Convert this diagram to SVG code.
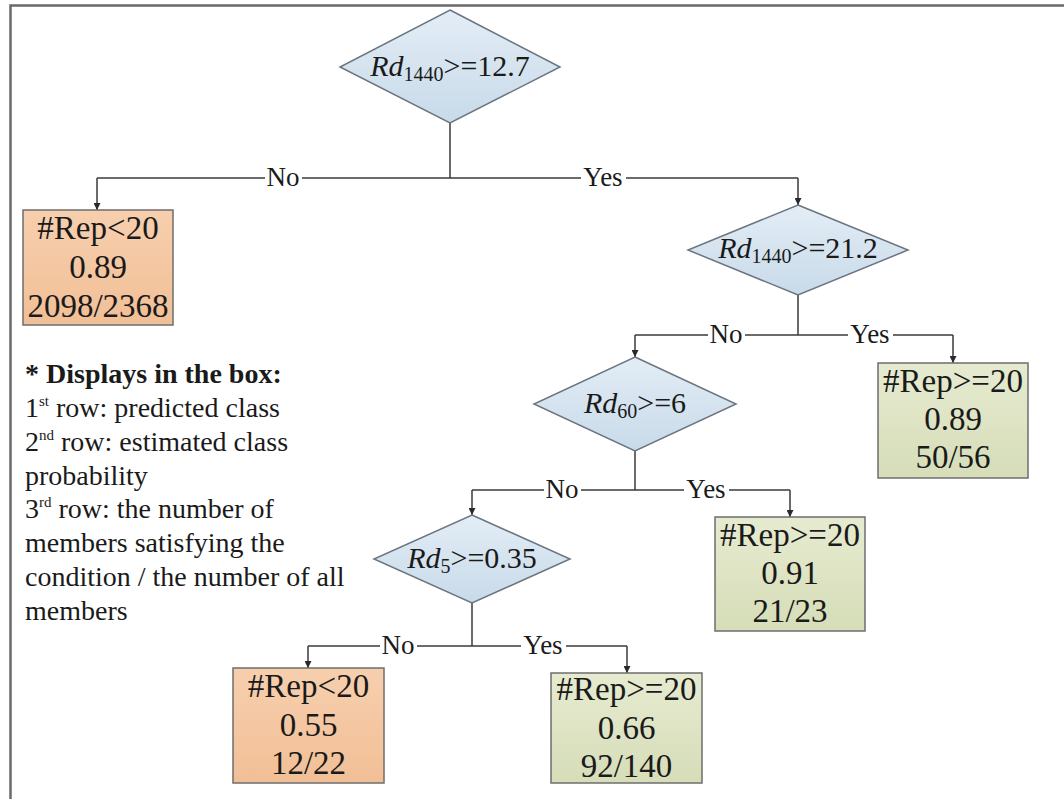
<svg xmlns="http://www.w3.org/2000/svg" width="1064" height="799" viewBox="0 0 1064 799">
  <style>
    text { font-family: "Liberation Serif", "Times New Roman", serif; fill: #1a1a1a; }
    .cond { font-size: 30px; text-anchor: middle; }
    .cond .v { font-style: italic; }
    .cond .sub { font-size: 20px; }
    .leaf { font-size: 33px; text-anchor: middle; }
    .lbl { font-size: 27px; text-anchor: middle; }
    .legend { font-size: 28px; }
    .legend .sup { font-size: 15px; }
    .dia { fill: url(#gDia); stroke: #6b7580; stroke-width: 1.5; }
    .neg { fill: url(#gNeg); stroke: #6e6e6e; stroke-width: 1.5; }
    .pos { fill: url(#gPos); stroke: #6e6e6e; stroke-width: 1.5; }
    .wire { fill: none; stroke: #3a3a3a; stroke-width: 1.5; }
    .gap { fill: #ffffff; }
    .frame { fill: none; stroke: #6a6a6a; stroke-width: 2.5; }
  </style>
  <defs>
    <linearGradient id="gDia" x1="0" y1="0" x2="0" y2="1">
      <stop offset="0" stop-color="#e3edf6"/>
      <stop offset="1" stop-color="#c8dae9"/>
    </linearGradient>
    <linearGradient id="gNeg" x1="0" y1="0" x2="0" y2="1">
      <stop offset="0" stop-color="#f7cfae"/>
      <stop offset="1" stop-color="#f1bf96"/>
    </linearGradient>
    <linearGradient id="gPos" x1="0" y1="0" x2="0" y2="1">
      <stop offset="0" stop-color="#e6ebd0"/>
      <stop offset="1" stop-color="#d6ddb8"/>
    </linearGradient>
    <marker id="arrow" viewBox="0 0 10 10" refX="10" refY="5" markerWidth="7" markerHeight="7" markerUnits="userSpaceOnUse" orient="auto">
      <path d="M0,0 L10,5 L0,10 z" fill="#2a2a2a"/>
    </marker>
  </defs>

  <rect width="1064" height="799" fill="#ffffff"/>

  <!-- outer frame (left and top edges) -->
  <path class="frame" d="M10.5,799 V5.5 H1064"/>

  <!-- connectors -->
  <g id="connectors">
    <path class="wire" d="M450,123 V178"/>
    <path class="wire" d="M97,178 H798"/>
    <path class="wire" d="M97,178 V210" marker-end="url(#arrow)"/>
    <path class="wire" d="M798,178 V205" marker-end="url(#arrow)"/>

    <path class="wire" d="M798,295 V335"/>
    <path class="wire" d="M635,335 H953"/>
    <path class="wire" d="M635,335 V357" marker-end="url(#arrow)"/>
    <path class="wire" d="M953,335 V363" marker-end="url(#arrow)"/>

    <path class="wire" d="M635,451 V490"/>
    <path class="wire" d="M472,490 H790"/>
    <path class="wire" d="M472,490 V515" marker-end="url(#arrow)"/>
    <path class="wire" d="M790,490 V517" marker-end="url(#arrow)"/>

    <path class="wire" d="M472,603 V646"/>
    <path class="wire" d="M308,646 H627"/>
    <path class="wire" d="M308,646 V668" marker-end="url(#arrow)"/>
    <path class="wire" d="M627,646 V673" marker-end="url(#arrow)"/>

    <!-- branch labels -->
    <rect class="gap" x="265" y="168" width="37" height="20"/>
    <text class="lbl" x="283" y="186">No</text>
    <rect class="gap" x="581" y="168" width="45" height="20"/>
    <text class="lbl" x="603" y="186">Yes</text>

    <rect class="gap" x="708" y="325" width="37" height="20"/>
    <text class="lbl" x="726" y="343">No</text>
    <rect class="gap" x="848" y="325" width="45" height="20"/>
    <text class="lbl" x="870" y="343">Yes</text>

    <rect class="gap" x="544" y="480" width="37" height="20"/>
    <text class="lbl" x="562" y="498">No</text>
    <rect class="gap" x="684" y="480" width="45" height="20"/>
    <text class="lbl" x="706" y="498">Yes</text>

    <rect class="gap" x="380" y="636" width="37" height="20"/>
    <text class="lbl" x="398" y="654">No</text>
    <rect class="gap" x="521" y="636" width="45" height="20"/>
    <text class="lbl" x="543" y="654">Yes</text>
  </g>

  <!-- split nodes -->
  <g id="split-rd1440-12_7">
    <polygon class="dia" points="450,10 560,67 450,123 340,67"/>
    <text class="cond" x="450" y="76"><tspan class="v">Rd</tspan><tspan class="sub" dy="5">1440</tspan><tspan dy="-5">&gt;=12.7</tspan></text>
  </g>
  <g id="split-rd1440-21_2">
    <polygon class="dia" points="798,205 908,250 798,295 688,250"/>
    <text class="cond" x="798" y="258"><tspan class="v">Rd</tspan><tspan class="sub" dy="5">1440</tspan><tspan dy="-5">&gt;=21.2</tspan></text>
  </g>
  <g id="split-rd60">
    <polygon class="dia" points="635,357 736,404 635,451 534,404"/>
    <text class="cond" x="635" y="413"><tspan class="v">Rd</tspan><tspan class="sub" dy="5">60</tspan><tspan dy="-5">&gt;=6</tspan></text>
  </g>
  <g id="split-rd5">
    <polygon class="dia" points="472,515 570,559 472,603 374,559"/>
    <text class="cond" x="472" y="568"><tspan class="v">Rd</tspan><tspan class="sub" dy="5">5</tspan><tspan dy="-5">&gt;=0.35</tspan></text>
  </g>

  <!-- leaf nodes -->
  <g id="leaf-2098-2368">
    <rect class="neg" x="23" y="210" width="150" height="115"/>
    <text class="leaf" x="98" y="239">#Rep&lt;20</text>
    <text class="leaf" x="98" y="278">0.89</text>
    <text class="leaf" x="98" y="317">2098/2368</text>
  </g>
  <g id="leaf-50-56">
    <rect class="pos" x="878" y="363" width="150" height="115"/>
    <text class="leaf" x="953" y="392">#Rep&gt;=20</text>
    <text class="leaf" x="953" y="430">0.89</text>
    <text class="leaf" x="953" y="468">50/56</text>
  </g>
  <g id="leaf-21-23">
    <rect class="pos" x="715" y="517" width="150" height="114"/>
    <text class="leaf" x="790" y="546">#Rep&gt;=20</text>
    <text class="leaf" x="790" y="584">0.91</text>
    <text class="leaf" x="790" y="622">21/23</text>
  </g>
  <g id="leaf-12-22">
    <rect class="neg" x="233" y="668" width="151" height="115"/>
    <text class="leaf" x="308.5" y="697">#Rep&lt;20</text>
    <text class="leaf" x="308.5" y="736">0.55</text>
    <text class="leaf" x="308.5" y="774">12/22</text>
  </g>
  <g id="leaf-92-140">
    <rect class="pos" x="551" y="673" width="151" height="110"/>
    <text class="leaf" x="626.5" y="700">#Rep&gt;=20</text>
    <text class="leaf" x="626.5" y="739">0.66</text>
    <text class="leaf" x="626.5" y="777">92/140</text>
  </g>

  <!-- legend -->
  <g id="legend" class="legend">
    <text x="25" y="383" font-weight="bold">* Displays in the box:</text>
    <text x="25" y="417">1<tspan class="sup" dy="-11">st</tspan><tspan dy="11"> row: predicted class</tspan></text>
    <text x="25" y="451">2<tspan class="sup" dy="-11">nd</tspan><tspan dy="11"> row: estimated class</tspan></text>
    <text x="25" y="485">probability</text>
    <text x="25" y="518">3<tspan class="sup" dy="-11">rd</tspan><tspan dy="11"> row: the number of</tspan></text>
    <text x="25" y="552">members satisfying the</text>
    <text x="25" y="586">condition / the number of all</text>
    <text x="25" y="620">members</text>
  </g>
</svg>
